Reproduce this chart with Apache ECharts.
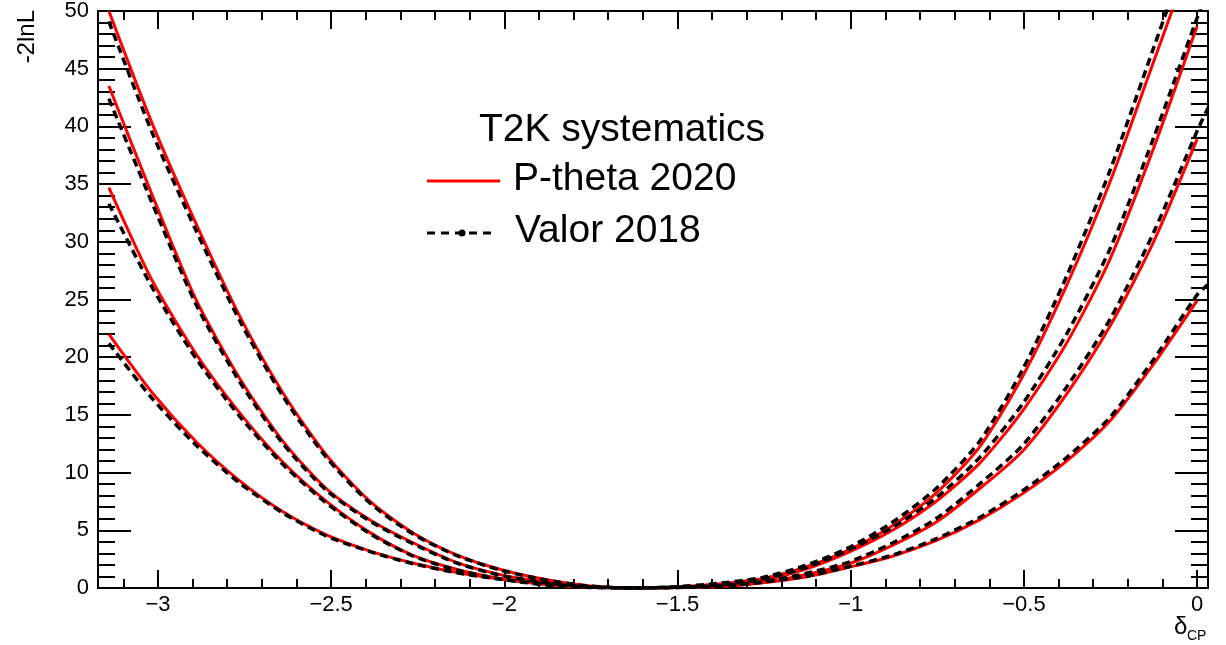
<!DOCTYPE html>
<html>
<head>
<meta charset="utf-8">
<title>-2lnL vs deltaCP</title>
<script src="https://cdn.jsdelivr.net/npm/echarts@6/dist/echarts.min.js"></script>
<style>
  html, body { margin: 0; padding: 0; background: #ffffff; }
  #chart { width: 1226px; height: 645px; }
</style>
</head>
<body>
<div id="chart"></div>
<script>
// delta_CP scan points (steps of pi/25 from -pi to 0)
const deltaCP = [-3.1416, -3.0159, -2.8903, -2.7646, -2.6389, -2.5133, -2.3876, -2.2619,
  -2.1363, -2.0106, -1.8850, -1.7593, -1.6336, -1.5080, -1.3823, -1.2566, -1.1310,
  -1.0053, -0.8796, -0.7540, -0.6283, -0.5027, -0.3770, -0.2513, -0.1257, 0];
// Valor scan runs one half-bin past zero
const deltaCPValor = deltaCP.concat([0.0314]);

// P-theta 2020: four -2lnL profiles
const ptheta1 = [50.0, 40.2, 31.6, 23.6, 16.9, 11.5, 7.5, 4.75, 2.85, 1.6, 0.75, 0.2, 0.0, 0.08, 0.35, 0.8, 1.8, 3.3, 5.4, 8.2, 12.2, 18.4, 26.2, 35.2, 45.6, 56.0];
const ptheta2 = [43.5, 34.0, 25.0, 18.2, 12.7, 8.6, 5.9, 3.9, 2.2, 1.15, 0.5, 0.12, 0.0, 0.04, 0.2, 0.65, 1.62, 3.1, 5.0, 7.5, 10.8, 15.4, 21.2, 28.5, 38.1, 48.7];
const ptheta3 = [34.7, 26.6, 20.3, 15.2, 10.9, 7.5, 4.8, 2.8, 1.6, 0.8, 0.3, 0.06, 0.0, 0.03, 0.12, 0.45, 1.15, 2.1, 3.7, 5.7, 8.6, 11.9, 16.8, 22.7, 30.0, 38.9];
const ptheta4 = [22.0, 16.9, 12.7, 9.3, 6.6, 4.6, 3.2, 2.15, 1.35, 0.78, 0.38, 0.1, 0.0, 0.03, 0.12, 0.45, 0.95, 1.8, 2.75, 4.1, 5.9, 8.2, 11.0, 14.5, 19.4, 24.9];

// Valor 2018: the same four profiles
const valor1 = [49.1, 39.4, 31.0, 23.2, 16.6, 11.3, 7.35, 4.65, 2.8, 1.55, 0.72, 0.18, 0.0, 0.1, 0.4, 0.9, 1.95, 3.5, 5.7, 8.6, 12.7, 19.0, 27.0, 36.2, 46.8, 57.5, 60.5];
const valor2 = [42.4, 33.3, 24.6, 17.9, 12.5, 8.45, 5.8, 3.8, 2.15, 1.1, 0.48, 0.11, 0.0, 0.06, 0.25, 0.75, 1.75, 3.3, 5.25, 7.8, 11.3, 16.0, 22.0, 29.4, 39.0, 49.4, 51.8];
const valor3 = [33.3, 26.0, 19.9, 14.9, 10.7, 7.35, 4.7, 2.75, 1.55, 0.78, 0.28, 0.05, 0.0, 0.05, 0.16, 0.52, 1.25, 2.25, 3.9, 6.0, 9.0, 12.4, 17.4, 23.3, 30.8, 39.6, 41.6];
const valor4 = [21.2, 16.4, 12.4, 9.1, 6.5, 4.5, 3.15, 2.1, 1.32, 0.76, 0.37, 0.09, 0.0, 0.04, 0.14, 0.5, 1.0, 1.85, 2.85, 4.25, 6.1, 8.45, 11.3, 14.8, 19.8, 25.4, 26.3];

// axis ranges and tick labels
const xRange = [-3.1730, 0.0314];
const yRange = [0, 50];
const xMajorTicks = [-3, -2.5, -2, -1.5, -1, -0.5, 0];
const xMinorTicks = [];
for (let i = -31; i <= 0; i++) { if (i % 5 !== 0) xMinorTicks.push(i / 10); }

const FONT = 'Liberation Sans, Arial, Helvetica, sans-serif';
const BLACK = '#000000';
const RED = '#ff0000';

function pairs(xs, ys) { return ys.map((y, i) => [xs[i], y]); }

function xAxisDef(position, ticks, len, withLine, withLabels) {
  return {
    type: 'value', position: position, min: xRange[0], max: xRange[1],
    axisLine: { show: withLine, onZero: false, lineStyle: { color: BLACK, width: 2 } },
    axisTick: { show: true, inside: true, length: len, customValues: ticks,
      lineStyle: { color: BLACK, width: 2 } },
    axisLabel: { show: withLabels, customValues: ticks, margin: 6,
      color: BLACK, fontSize: 22, fontFamily: FONT,
      formatter: v => String(v).replace('-', '\u2212') },
    splitLine: { show: false }, minorTick: { show: false }
  };
}

function yAxisDef(position, withLabels) {
  return {
    type: 'value', position: position, min: yRange[0], max: yRange[1], interval: 5,
    axisLine: { show: true, onZero: false, lineStyle: { color: BLACK, width: 2 } },
    axisTick: { show: true, inside: true, length: 33, lineStyle: { color: BLACK, width: 2 } },
    minorTick: { show: true, splitNumber: 5, length: 17, lineStyle: { color: BLACK, width: 2 } },
    axisLabel: { show: withLabels, margin: 9, color: BLACK, fontSize: 22, fontFamily: FONT },
    splitLine: { show: false }
  };
}

function lineSeries(name, xs, ys, color, dashed) {
  return {
    name: name, type: 'line', xAxisIndex: 0, yAxisIndex: 0,
    data: pairs(xs, ys), showSymbol: false, symbol: 'none',
    smooth: 0.25,
    clip: true, silent: true,
    lineStyle: { color: color, width: dashed ? 3.5 : 3, type: dashed ? [8, 5] : 'solid' },
    z: dashed ? 4 : 3
  };
}

const chart = echarts.init(document.getElementById('chart'), null, { renderer: 'canvas' });

chart.setOption({
  animation: false,
  backgroundColor: '#ffffff',
  grid: { left: 98, top: 10, width: 1110, height: 578, containLabel: false },
  xAxis: [
    xAxisDef('bottom', xMajorTicks, 18, true, true),
    xAxisDef('bottom', xMinorTicks, 9, false, false),
    xAxisDef('top', xMajorTicks, 18, true, false),
    xAxisDef('top', xMinorTicks, 9, false, false)
  ],
  yAxis: [yAxisDef('left', true), yAxisDef('right', false)],
  series: [
    lineSeries('P-theta 2020', deltaCP, ptheta1, RED, false),
    lineSeries('P-theta 2020', deltaCP, ptheta2, RED, false),
    lineSeries('P-theta 2020', deltaCP, ptheta3, RED, false),
    lineSeries('P-theta 2020', deltaCP, ptheta4, RED, false),
    lineSeries('Valor 2018', deltaCPValor, valor1, BLACK, true),
    lineSeries('Valor 2018', deltaCPValor, valor2, BLACK, true),
    lineSeries('Valor 2018', deltaCPValor, valor3, BLACK, true),
    lineSeries('Valor 2018', deltaCPValor, valor4, BLACK, true)
  ],
  graphic: [
    // y axis title
    { type: 'text', x: 27, y: 10, rotation: Math.PI / 2, z: 10,
      style: { text: '-2lnL', fontSize: 24, fontFamily: FONT, fill: BLACK,
        align: 'right', verticalAlign: 'middle' } },
    // x axis title: delta with CP subscript
    { type: 'text', x: 1174, y: 627, z: 10,
      style: { text: '\u03b4', fontSize: 24, fontFamily: FONT, fill: BLACK,
        align: 'left', verticalAlign: 'middle' } },
    { type: 'text', x: 1187, y: 636, z: 10,
      style: { text: 'CP', fontSize: 14, fontFamily: FONT, fill: BLACK,
        align: 'left', verticalAlign: 'middle' } },
    // legend header and entries
    { type: 'text', x: 479, y: 130, z: 10,
      style: { text: 'T2K systematics', fontSize: 39, fontFamily: FONT, fill: BLACK,
        align: 'left', verticalAlign: 'middle' } },
    { type: 'line', z: 10, shape: { x1: 427, y1: 181, x2: 500, y2: 181 },
      style: { stroke: RED, lineWidth: 3 } },
    { type: 'text', x: 513, y: 179, z: 10,
      style: { text: 'P-theta 2020', fontSize: 39, fontFamily: FONT, fill: BLACK,
        align: 'left', verticalAlign: 'middle' } },
    { type: 'line', z: 10, shape: { x1: 427, y1: 233, x2: 494, y2: 233 },
      style: { stroke: BLACK, lineWidth: 3, lineDash: [8, 6] } },
    { type: 'circle', z: 10, shape: { cx: 462, cy: 233, r: 3.5 },
      style: { fill: BLACK } },
    { type: 'text', x: 515, y: 231, z: 10,
      style: { text: 'Valor 2018', fontSize: 39, fontFamily: FONT, fill: BLACK,
        align: 'left', verticalAlign: 'middle' } }
  ]
});
</script>
</body>
</html>
